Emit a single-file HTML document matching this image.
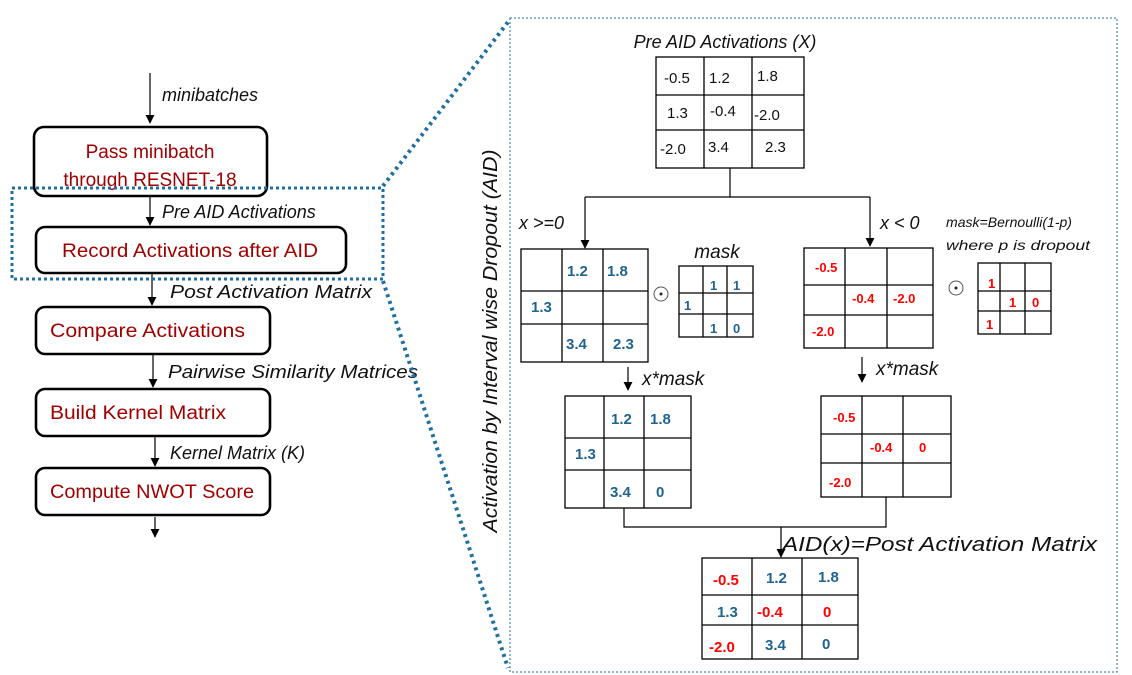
<!DOCTYPE html>
<html><head><meta charset="utf-8"><style>
html,body{margin:0;padding:0;background:#fff}
svg{display:block}
text{font-family:"Liberation Sans",sans-serif}
.it{font-style:italic;font-size:17px;fill:#111}
.bx{fill:none;stroke:#000;stroke-width:2.6}
.bt{font-size:19px;fill:#a00000}
.g{fill:none;stroke:#000;stroke-width:1.3}
.b{fill:#1f6391;font-weight:bold;font-size:15px}
.r{fill:#ff0000;font-weight:bold;font-size:13px}
.n{fill:#111;font-size:15px}
.ln{stroke:#000;stroke-width:1.2;fill:none}
</style></head><body>
<svg width="1132" height="675" viewBox="0 0 1132 675" xmlns="http://www.w3.org/2000/svg">
<defs><marker id="a" viewBox="0 0 10 10" refX="9" refY="5" markerWidth="9" markerHeight="9" orient="auto" markerUnits="userSpaceOnUse"><path d="M0,0 L10,5 L0,10 z" fill="#000"/></marker></defs>

<!-- left flow -->
<line class="ln" x1="150" y1="73" x2="150" y2="123" marker-end="url(#a)"/>
<text class="it" x="162" y="101" style="font-size:18px">minibatches</text>
<rect class="bx" x="34" y="127" width="233" height="69" rx="10"/>
<text class="bt" x="150" y="158" text-anchor="middle">Pass minibatch</text>
<text class="bt" x="150" y="186" text-anchor="middle">through RESNET-18</text>
<line class="ln" x1="150" y1="196" x2="150" y2="225" marker-end="url(#a)"/>
<text class="it" x="162" y="218" style="font-size:18px">Pre AID Activations</text>
<rect class="bx" x="36" y="227" width="310" height="46" rx="9"/>
<text class="bt" x="62" y="257" textLength="256" lengthAdjust="spacingAndGlyphs">Record Activations after AID</text>
<line class="ln" x1="152" y1="273" x2="152" y2="305" marker-end="url(#a)"/>
<text class="it" x="170" y="298" style="font-size:18px" textLength="202" lengthAdjust="spacingAndGlyphs">Post Activation Matrix</text>
<rect class="bx" x="36" y="307" width="234" height="47" rx="9"/>
<text class="bt" x="50" y="337" textLength="195" lengthAdjust="spacingAndGlyphs">Compare  Activations</text>
<line class="ln" x1="153" y1="354" x2="153" y2="387" marker-end="url(#a)"/>
<text class="it" x="168" y="378" style="font-size:18px" textLength="250" lengthAdjust="spacingAndGlyphs">Pairwise Similarity Matrices</text>
<rect class="bx" x="36" y="389" width="234" height="47" rx="9"/>
<text class="bt" x="50" y="419" textLength="176" lengthAdjust="spacingAndGlyphs">Build Kernel Matrix</text>
<line class="ln" x1="155" y1="436" x2="155" y2="466" marker-end="url(#a)"/>
<text class="it" x="170" y="459" style="font-size:18px">Kernel Matrix (K)</text>
<rect class="bx" x="36" y="468" width="234" height="47" rx="9"/>
<text class="bt" x="50" y="498" textLength="204" lengthAdjust="spacingAndGlyphs">Compute NWOT Score</text>
<line class="ln" x1="155" y1="517" x2="155" y2="537" marker-end="url(#a)"/>

<!-- dotted zoom -->
<rect x="12" y="188" width="371" height="91" fill="none" stroke="#1f6fa0" stroke-width="3" stroke-dasharray="3,3"/>
<line x1="383" y1="186" x2="508" y2="22" stroke="#1f6fa0" stroke-width="4" stroke-dasharray="3,4"/>
<line x1="383" y1="281" x2="508" y2="668" stroke="#1f6fa0" stroke-width="4" stroke-dasharray="3,4"/>
<rect x="510" y="18" width="607" height="654" fill="none" stroke="#1f6fa0" stroke-width="1" stroke-dasharray="2,2"/>
<text class="it" transform="translate(497,341) rotate(-90)" text-anchor="middle" textLength="383" lengthAdjust="spacingAndGlyphs" style="font-size:20px">Activation by Interval wise Dropout (AID)</text>

<!-- pre AID -->
<text class="it" x="725" y="48" text-anchor="middle" style="font-size:18px">Pre AID Activations (X)</text>
<rect class="g" x="656" y="57" width="148" height="111"/>
<path class="g" d="M704,57V168M752,57V168M656,95H804M656,130H804"/>
<text class="n" x="664" y="83">-0.5</text><text class="n" x="709" y="83">1.2</text><text class="n" x="757" y="81">1.8</text>
<text class="n" x="667" y="118">1.3</text><text class="n" x="710" y="116">-0.4</text><text class="n" x="754" y="120">-2.0</text>
<text class="n" x="660" y="154">-2.0</text><text class="n" x="708" y="152">3.4</text><text class="n" x="765" y="152">2.3</text>
<path class="ln" d="M730,168V197M585,197H870"/>
<line class="ln" x1="585" y1="197" x2="585" y2="248" marker-end="url(#a)"/>
<line class="ln" x1="870" y1="197" x2="870" y2="246" marker-end="url(#a)"/>
<text class="it" x="519" y="229" style="font-size:18px">x &gt;=0</text>
<text class="it" x="880" y="229" style="font-size:18px">x &lt; 0</text>
<text class="it" x="946" y="227" style="font-size:14px" textLength="126" lengthAdjust="spacingAndGlyphs">mask=Bernoulli(1-p)</text>
<text class="it" x="946" y="250" style="font-size:14px" textLength="144" lengthAdjust="spacingAndGlyphs">where p is dropout</text>

<!-- left branch -->
<rect class="g" x="521" y="249" width="127" height="113"/>
<path class="g" d="M562,249V362M603,249V362M521,291H648M521,324H648"/>
<text class="b" x="567" y="276">1.2</text><text class="b" x="607" y="276">1.8</text>
<text class="b" x="531" y="312">1.3</text>
<text class="b" x="566" y="349">3.4</text><text class="b" x="613" y="349">2.3</text>
<circle cx="661" cy="294" r="7" fill="none" stroke="#555" stroke-width="1"/><circle cx="661" cy="294" r="1.5" fill="#222"/>
<text class="it" x="717" y="258" text-anchor="middle" style="font-size:19px">mask</text>
<rect class="g" x="679" y="266" width="74" height="71"/>
<path class="g" d="M703,266V337M727,266V337M679,293H753M679,314H753"/>
<text class="b" x="710" y="290" style="font-size:13px">1</text><text class="b" x="733" y="290" style="font-size:13px">1</text>
<text class="b" x="684" y="310" style="font-size:13px">1</text>
<text class="b" x="710" y="333" style="font-size:13px">1</text><text class="b" x="733" y="333" style="font-size:13px">0</text>

<!-- right branch -->
<rect class="g" x="804" y="248" width="129" height="100"/>
<path class="g" d="M845,248V348M887,248V348M804,285H933M804,315H933"/>
<text class="r" x="815" y="272">-0.5</text>
<text class="r" x="852" y="303">-0.4</text><text class="r" x="893" y="303">-2.0</text>
<text class="r" x="812" y="336">-2.0</text>
<circle cx="956" cy="288" r="7" fill="none" stroke="#555" stroke-width="1"/><circle cx="956" cy="288" r="1.5" fill="#222"/>
<rect class="g" x="978" y="263" width="73" height="71"/>
<path class="g" d="M1000,263V334M1025,263V334M978,291H1051M978,311H1051"/>
<text class="r" x="988" y="288">1</text>
<text class="r" x="1009" y="307">1</text><text class="r" x="1032" y="307">0</text>
<text class="r" x="986" y="329">1</text>

<!-- x*mask -->
<line class="ln" x1="628" y1="367" x2="628" y2="390" marker-end="url(#a)"/>
<text class="it" x="642" y="385" style="font-size:19px">x*mask</text>
<line class="ln" x1="862" y1="357" x2="862" y2="382" marker-end="url(#a)"/>
<text class="it" x="876" y="375" style="font-size:19px">x*mask</text>

<rect class="g" x="565" y="396" width="126" height="112"/>
<path class="g" d="M604,396V508M644,396V508M565,438H691M565,470H691"/>
<text class="b" x="611" y="424">1.2</text><text class="b" x="650" y="424">1.8</text>
<text class="b" x="575" y="459">1.3</text>
<text class="b" x="610" y="497">3.4</text><text class="b" x="656" y="497">0</text>

<rect class="g" x="821" y="396" width="130" height="101"/>
<path class="g" d="M862,396V497M903,396V497M821,434H951M821,463H951"/>
<text class="r" x="833" y="422">-0.5</text>
<text class="r" x="870" y="452">-0.4</text><text class="r" x="919" y="452">0</text>
<text class="r" x="829" y="487">-2.0</text>

<path class="ln" d="M624,508V527H886V497"/>
<line class="ln" x1="781" y1="527" x2="781" y2="557" marker-end="url(#a)"/>
<text class="it" x="782" y="551" textLength="315" lengthAdjust="spacingAndGlyphs" style="font-size:20px">AID(x)=Post Activation Matrix</text>

<rect class="g" x="702" y="558" width="156" height="101"/>
<path class="g" d="M752,558V659M802,558V659M702,595H858M702,625H858"/>
<text class="r" x="713" y="585" style="font-size:15px">-0.5</text><text class="b" x="766" y="583">1.2</text><text class="b" x="818" y="582">1.8</text>
<text class="b" x="717" y="617">1.3</text><text class="r" x="757" y="617" style="font-size:15px">-0.4</text><text class="r" x="823" y="617" style="font-size:15px">0</text>
<text class="r" x="709" y="652" style="font-size:15px">-2.0</text><text class="b" x="765" y="650">3.4</text><text class="b" x="822" y="649">0</text>
</svg>
</body></html>
